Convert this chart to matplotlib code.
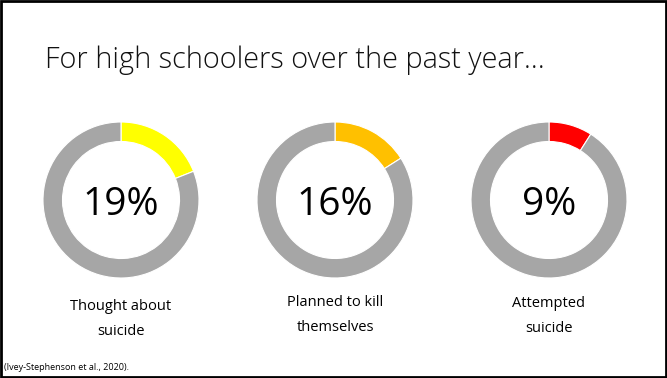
import matplotlib.pyplot as plt
from matplotlib.patches import Rectangle

plt.rcParams['font.family'] = ['Open Sans', 'DejaVu Sans']

title = "For high schoolers over the past year…"
labels = ["Thought about\nsuicide", "Planned to kill\nthemselves", "Attempted\nsuicide"]
percents = [19, 16, 9]
colors = ["#FFFF00", "#FFC000", "#FF0000"]
rest_color = "#A6A6A6"
source = "(Ivey-Stephenson et al., 2020)."

W, H = 667, 378
fig = plt.figure(figsize=(W / 100, H / 100), dpi=100)

# slide frame
fig.patches.append(Rectangle((0.0015, 0.0027), 0.997, 0.9946, transform=fig.transFigure,
                             fill=False, edgecolor="black", linewidth=2))

fig.text(45 / W, 1 - 60 / H, title, fontsize=20.8, fontweight="light",
         ha="left", va="center", color="#111111")

centers_x = [121, 335, 549]
label_y = [319, 315, 316]
cy, r = 200, 78
for cx, ly, p, c, lab in zip(centers_x, label_y, percents, colors, labels):
    ax = fig.add_axes([(cx - r) / W, (H - cy - r) / H, 2 * r / W, 2 * r / H])
    ax.pie([p, 100 - p], colors=[c, rest_color], startangle=90, counterclock=False,
           radius=1.0, wedgeprops=dict(width=0.25, edgecolor="white", linewidth=0.8))
    ax.set_aspect("equal")
    ax.set_xlim(-1, 1)
    ax.set_ylim(-1, 1)
    ax.axis("off")
    ax.text(0, -0.06, f"{p}%", fontsize=28, ha="center", va="center", color="black")
    fig.text(cx / W, 1 - ly / H, lab, fontsize=10.5, ha="center", va="center",
             linespacing=1.85, color="black")

fig.text(4 / W, 1 - 368 / H, source, fontsize=6.5, ha="left", va="center")

fig.savefig("out.png", dpi=100)
